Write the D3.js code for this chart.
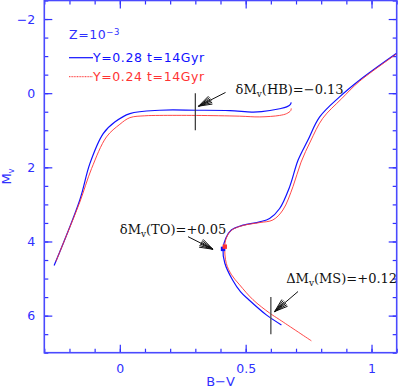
<!DOCTYPE html>
<html>
<head>
<meta charset="utf-8">
<script src="https://cdn.jsdelivr.net/npm/d3@7"></script>
<style>
  body { margin: 0; background: #fff; }
  text { font-family: "DejaVu Sans", sans-serif; }
  .note { font-family: "DejaVu Serif", serif; font-size: 13px; fill: #111; }
</style>
</head>
<body>
<div id="chart"></div>
<script>
// isochrones, Z=1e-3, t=14 Gyr
var bvIsoBlue = [1.098, 0.952, 0.873, 0.794, 0.747, 0.708, 0.675, 0.635, 0.595, 0.556, 0.489, 0.443, 0.421, 0.410, 0.417, 0.448, 0.480, 0.512, 0.582, 0.642];
var mvIsoBlue = [-1.07, -0.35, 0.10, 0.64, 1.27, 1.81, 2.52, 3.11, 3.38, 3.47, 3.56, 3.69, 3.91, 4.20, 4.58, 5.04, 5.36, 5.57, 5.98, 6.25];

var bvIsoRed = [1.098, 0.952, 0.881, 0.806, 0.758, 0.720, 0.688, 0.648, 0.608, 0.556, 0.489, 0.443, 0.423, 0.417, 0.423, 0.444, 0.476, 0.529, 0.595, 0.635, 0.761];
var mvIsoRed = [-1.05, -0.32, 0.15, 0.68, 1.29, 1.86, 2.52, 3.15, 3.42, 3.49, 3.57, 3.70, 3.91, 4.14, 4.59, 4.90, 5.17, 5.57, 5.93, 6.11, 6.68];

// horizontal branches
var bvHbBlue = [-0.261, -0.159, -0.119, -0.066, -0.020, 0.040, 0.159, 0.304, 0.437, 0.524, 0.563, 0.635, 0.663, 0.677, 0.681];
var mvHbBlue = [4.65, 2.88, 1.90, 1.09, 0.78, 0.55, 0.46, 0.46, 0.47, 0.51, 0.50, 0.42, 0.37, 0.31, 0.25];

var bvHbRed = [-0.254, -0.206, -0.159, -0.112, -0.053, 0.000, 0.040, 0.099, 0.159, 0.304, 0.476, 0.556, 0.635, 0.663, 0.679, 0.681];
var mvHbRed = [4.54, 3.74, 2.94, 2.03, 1.18, 0.84, 0.66, 0.61, 0.60, 0.60, 0.62, 0.64, 0.60, 0.55, 0.47, 0.41];

// turn-off points
var turnOffBv = [0.410, 0.417];
var turnOffMv = [4.20, 4.14];

var seriesNames = ["Y=0.28 t=14Gyr", "Y=0.24 t=14Gyr"];
var seriesColors = ["#1010ff", "#ff3333"];

var xMajorTicks = [0, 0.5, 1];
var yMajorTicks = [-2, 0, 2, 4, 6];

var width = 398;
var height = 388;
var margin = {top: 0.5, right: 1.3, bottom: 35.3, left: 44.3};
var axisColor = "#3030ff";

var svg = d3.select("#chart")
  .append("svg")
    .attr("width", width)
    .attr("height", height);

var x = d3.scaleLinear()
  .domain([-0.3, 1.1])
  .range([margin.left, width - margin.right]);

var y = d3.scaleLinear()
  .domain([-2.5, 7])
  .range([margin.top, height - margin.bottom]);

var xMinor = d3.range(-0.3, 1.1001, 0.1).map(function(d){ return +d.toFixed(2); });
var yMinor = d3.range(-2.5, 7.001, 0.5);

function styleAxis(g) {
  g.select(".domain").remove();
  g.selectAll("line").attr("stroke", axisColor).attr("stroke-width", 1.2);
  g.selectAll("text").attr("fill", axisColor).style("font-size", "12.5px");
}

var fmt = function(d){ return d < 0 ? "\u2212" + Math.abs(d) : String(d); };

// bottom + top
svg.append("g").attr("transform", "translate(0," + y.range()[1] + ")")
  .call(d3.axisBottom(x).tickValues(xMinor).tickSize(-4).tickFormat(""))
  .call(styleAxis);
svg.append("g").attr("transform", "translate(0," + y.range()[1] + ")")
  .call(d3.axisBottom(x).tickValues(xMajorTicks).tickSize(-8).tickPadding(11).tickFormat(fmt))
  .call(styleAxis);
svg.append("g").attr("transform", "translate(0," + y.range()[0] + ")")
  .call(d3.axisTop(x).tickValues(xMinor).tickSize(-4).tickFormat(""))
  .call(styleAxis);
svg.append("g").attr("transform", "translate(0," + y.range()[0] + ")")
  .call(d3.axisTop(x).tickValues(xMajorTicks).tickSize(-8).tickFormat(""))
  .call(styleAxis);

// left + right
svg.append("g").attr("transform", "translate(" + x.range()[0] + ",0)")
  .call(d3.axisLeft(y).tickValues(yMinor).tickSize(-4).tickFormat(""))
  .call(styleAxis);
svg.append("g").attr("transform", "translate(" + x.range()[0] + ",0)")
  .call(d3.axisLeft(y).tickValues(yMajorTicks).tickSize(-8).tickPadding(9).tickFormat(fmt))
  .call(styleAxis);
svg.append("g").attr("transform", "translate(" + x.range()[1] + ",0)")
  .call(d3.axisRight(y).tickValues(yMinor).tickSize(-4).tickFormat(""))
  .call(styleAxis);
svg.append("g").attr("transform", "translate(" + x.range()[1] + ",0)")
  .call(d3.axisRight(y).tickValues(yMajorTicks).tickSize(-8).tickFormat(""))
  .call(styleAxis);

// frame
svg.append("rect")
  .attr("x", x.range()[0])
  .attr("y", y.range()[0])
  .attr("width", x.range()[1] - x.range()[0])
  .attr("height", y.range()[1] - y.range()[0])
  .attr("fill", "none")
  .attr("stroke", "#4a4aff")
  .attr("stroke-width", 1.6);

// axis titles
svg.append("text")
  .attr("x", (x.range()[0] + x.range()[1]) / 2)
  .attr("y", 386)
  .attr("text-anchor", "middle")
  .attr("fill", axisColor)
  .style("font-size", "13px")
  .text("B\u2212V");

var ylab = svg.append("text")
  .attr("transform", "translate(11," + ((y.range()[0] + y.range()[1]) / 2) + ") rotate(-90)")
  .attr("text-anchor", "middle")
  .attr("fill", axisColor)
  .style("font-size", "13px");
ylab.append("tspan").text("M");
ylab.append("tspan").attr("dy", 3).style("font-size", "8px").text("v");

// curves
var line = d3.line()
  .x(function(d){ return x(d[0]); })
  .y(function(d){ return y(d[1]); })
  .curve(d3.curveCatmullRom.alpha(0.5));

function zip(a, b) { return a.map(function(v, i){ return [v, b[i]]; }); }

var plot = svg.append("g");

plot.append("path").datum(zip(bvIsoBlue, mvIsoBlue))
  .attr("d", line).attr("fill", "none").attr("stroke", seriesColors[0]).attr("stroke-width", 1.2);
plot.append("path").datum(zip(bvHbBlue, mvHbBlue))
  .attr("d", line).attr("fill", "none").attr("stroke", seriesColors[0]).attr("stroke-width", 1.2);
plot.append("path").datum(zip(bvIsoRed, mvIsoRed))
  .attr("d", line).attr("fill", "none").attr("stroke", seriesColors[1]).attr("stroke-width", 0.9);
plot.append("path").datum(zip(bvHbRed, mvHbRed))
  .attr("d", line).attr("fill", "none").attr("stroke", seriesColors[1]).attr("stroke-width", 0.9);

plot.selectAll("rect.to")
  .data(zip(turnOffBv, turnOffMv))
  .enter()
  .append("rect")
    .attr("class", "to")
    .attr("x", function(d){ return x(d[0]) - 2.2; })
    .attr("y", function(d){ return y(d[1]) - 2.2; })
    .attr("width", 4.4)
    .attr("height", 4.4)
    .attr("fill", function(d, i){ return seriesColors[i]; });

// marker lines at B-V = 0.3 and 0.6
plot.append("line")
  .attr("x1", x(0.3)).attr("x2", x(0.3)).attr("y1", y(0)).attr("y2", y(1))
  .attr("stroke", "#333").attr("stroke-width", 1.2);
plot.append("line")
  .attr("x1", x(0.6)).attr("x2", x(0.6)).attr("y1", y(5.5)).attr("y2", y(6.5))
  .attr("stroke", "#555").attr("stroke-width", 1.4);

// annotations
function arrow(x1, y1, x2, y2) {
  var g = plot.append("g").attr("stroke", "#111").attr("stroke-width", 1).attr("fill", "none");
  g.append("line").attr("x1", x1).attr("y1", y1).attr("x2", x2).attr("y2", y2);
  var ang = Math.atan2(y1 - y2, x1 - x2);
  [-0.32, -0.2, -0.08, 0.08, 0.2, 0.32].forEach(function(a){
    g.append("line")
      .attr("x1", x2).attr("y1", y2)
      .attr("x2", x2 + 14 * Math.cos(ang + a))
      .attr("y2", y2 + 14 * Math.sin(ang + a));
  });
}

function note(bv, mv, lead, rest) {
  var t = plot.append("text").attr("class", "note").attr("x", x(bv)).attr("y", y(mv));
  t.append("tspan").text(lead);
  t.append("tspan").attr("dy", 3).style("font-size", "9px").text("v");
  t.append("tspan").attr("dy", -3).text(rest);
}

note(0.46, 0.01, "\u03b4M", "(HB)=\u22120.13");
arrow(x(0.42), y(-0.02), x(0.313), y(0.35));

note(0.0, 3.81, "\u03b4M", "(TO)=+0.05");
arrow(x(0.271), y(3.87), x(0.370), y(4.21));

note(0.661, 5.12, "\u0394M", "(MS)=+0.12");
arrow(x(0.708), y(5.35), x(0.615), y(5.89));

// legend
var legend = svg.append("g");
var title = legend.append("text").attr("x", 69).attr("y", 38.5)
  .attr("fill", axisColor).style("font-size", "12.5px").style("letter-spacing", "0.6px");
title.append("tspan").text("Z=10");
title.append("tspan").attr("dy", -4).style("font-size", "8.5px").text("\u22123");

seriesNames.forEach(function(name, i){
  var yy = 57.7 + i * 19;
  legend.append("line")
    .attr("x1", 69).attr("x2", 93).attr("y1", yy).attr("y2", yy)
    .attr("stroke", seriesColors[i]).attr("stroke-width", i == 0 ? 1.2 : 1)
    .attr("stroke-dasharray", i == 0 ? null : "1,0.6");
  legend.append("text")
    .attr("x", 93).attr("y", yy + 4.3)
    .attr("fill", seriesColors[i])
    .style("font-size", "12.5px")
    .style("letter-spacing", "0.6px")
    .text(name);
});
</script>
</body>
</html>
